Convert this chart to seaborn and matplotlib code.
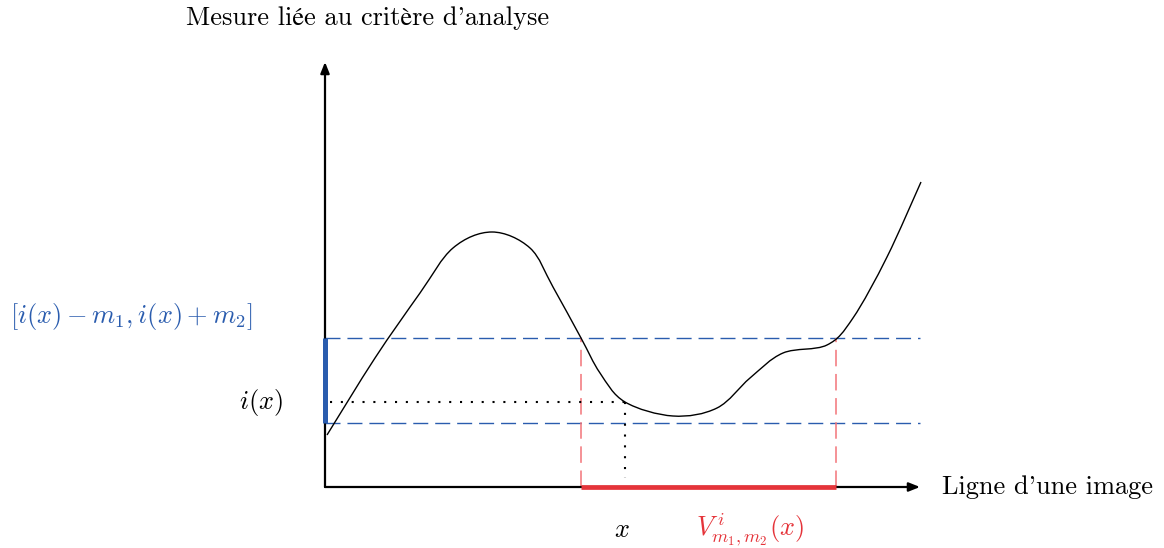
import matplotlib
matplotlib.use("Agg")
import matplotlib.pyplot as plt
from matplotlib.path import Path
from matplotlib.patches import PathPatch
import seaborn as sns
import pandas as pd

# Signal along one image row (abscissa: pixel position, ordinate: measure)
curve_x = [0.02, 0.50, 0.95, 1.28, 1.67, 2.05, 2.28, 2.56, 2.75, 3.00, 3.48,
           3.92, 4.25, 4.58, 5.02, 5.28, 5.62, 5.96]
curve_y = [0.52, 1.29, 1.94, 2.39, 2.55, 2.39, 2.00, 1.49, 1.14, 0.85, 0.71,
           0.79, 1.09, 1.34, 1.42, 1.69, 2.30, 3.05]

# Reference point and tolerance band
x0 = 3.00
i_x0 = 0.85
band_low = 0.64
band_high = 1.49
# Interval where the signal stays inside the band
v_start = 2.56
v_end = 5.11

# Axis extents
x_axis_end = 5.95
y_axis_end = 4.25

sns.set_theme(style="white")
plt.rcParams["font.family"] = ["cmr10", "STIXGeneral", "DejaVu Serif"]
plt.rcParams["mathtext.fontset"] = "cm"
plt.rcParams["axes.unicode_minus"] = False
plt.rcParams["text.color"] = "black"

BLUE = "#2a5cae"
RED = "#e5343a"
RED_LIGHT = "#f37479"

fig = plt.figure(figsize=(11.64, 5.48), dpi=100)
ax = fig.add_axes([0, 0, 1, 1])
ax.set_xlim(-3.25, 8.39)
ax.set_ylim(-0.61, 4.87)
ax.axis("off")

# Tolerance band limits
dash = (0, (10.8, 5.0))
bands = pd.DataFrame({
    "x": [0, x_axis_end, 0, x_axis_end],
    "y": [band_high, band_high, band_low, band_low],
    "level": ["haut", "haut", "bas", "bas"],
})
for _, grp in bands.groupby("level"):
    sns.lineplot(data=grp, x="x", y="y", color=BLUE, lw=1.0, linestyle=dash,
                 ax=ax, legend=False)

# Bounds of the interval V
for xv in (v_start, v_end):
    ax.plot([xv, xv], [0, band_high], color=RED_LIGHT, lw=1.1, linestyle=dash)

# Projection of the reference point onto both axes
dots = (0, (1, 4.2))
ax.plot([0.05, x0], [i_x0, i_x0], color="black", lw=1.5, linestyle=dots)
ax.plot([x0, x0], [i_x0, 0.09], color="black", lw=1.5, linestyle=dots)

# The signal: smooth curve through the knots (Catmull-Rom as cubic Beziers)
pts = list(zip(curve_x, curve_y))
verts = [pts[0]]
codes = [Path.MOVETO]
for k in range(len(pts) - 1):
    p0 = pts[max(k - 1, 0)]
    p1 = pts[k]
    p2 = pts[k + 1]
    p3 = pts[min(k + 2, len(pts) - 1)]
    c1 = (p1[0] + (p2[0] - p0[0]) / 6, p1[1] + (p2[1] - p0[1]) / 6)
    c2 = (p2[0] - (p3[0] - p1[0]) / 6, p2[1] - (p3[1] - p1[1]) / 6)
    verts += [c1, c2, p2]
    codes += [Path.CURVE4] * 3
ax.add_patch(PathPatch(Path(verts, codes), facecolor="none", edgecolor="black",
                       lw=1.0, zorder=3))

# Axes with arrow heads
arrow = dict(arrowstyle="-|>,head_length=0.55,head_width=0.22", lw=1.6,
             color="black", shrinkA=0, shrinkB=0)
ax.annotate("", xy=(x_axis_end, 0), xytext=(0, 0), arrowprops=arrow, zorder=4)
ax.annotate("", xy=(0, y_axis_end), xytext=(0, 0), arrowprops=arrow, zorder=4)

# Highlighted intervals
ax.plot([0, 0], [band_low, band_high], color=BLUE, lw=3.6,
        solid_capstyle="butt", zorder=5)
ax.plot([v_start, v_end], [0, 0], color=RED, lw=3.4,
        solid_capstyle="butt", zorder=5)

# Labels
fs = 19
ax.text(0.43, 4.69, "Mesure liée au critère d'analyse", ha="center",
        va="center", fontsize=fs)
ax.text(6.17, 0.0, "Ligne d'une image", ha="left", va="center", fontsize=fs)
ax.text(-0.42, i_x0, r"$i(x)$", ha="right", va="center", fontsize=fs)
ax.text(-3.15, 1.71, r"$[i(x)-m_1, i(x)+m_2]$", ha="left", va="center",
        fontsize=fs, color=BLUE)
ax.text(x0 - 0.03, -0.43, r"$x$", ha="center", va="center", fontsize=fs)
ax.text(4.25, -0.43, r"$V^{\,i}_{m_1,m_2}(x)$", ha="center", va="center",
        fontsize=fs, color=RED)

fig.savefig("out.png", dpi=100)
